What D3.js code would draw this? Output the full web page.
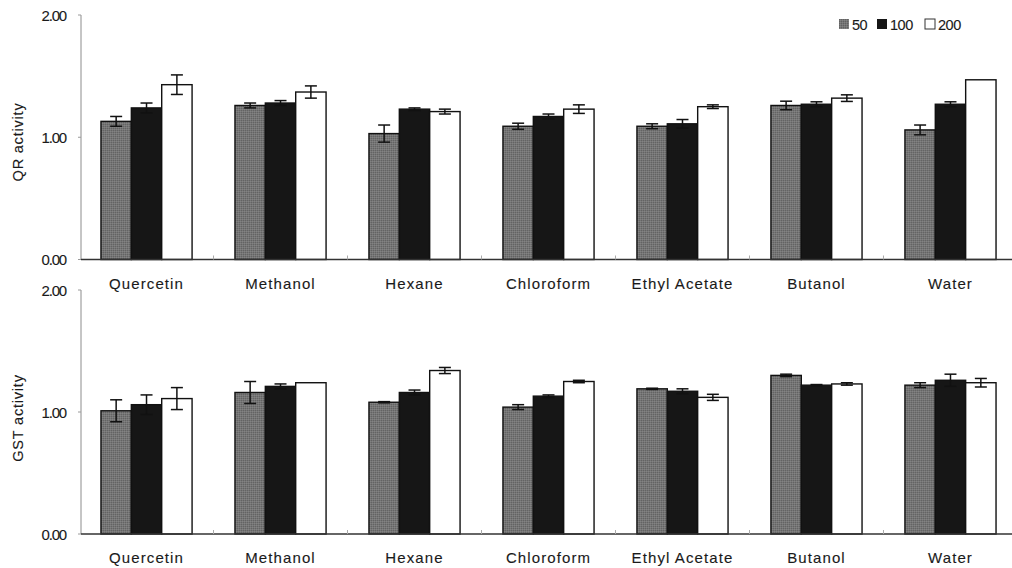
<!DOCTYPE html>
<html>
<head>
<meta charset="utf-8">
<script src="https://cdn.jsdelivr.net/npm/d3@7/dist/d3.min.js"></script>
<style>
  html, body { margin: 0; padding: 0; background: #fff; }
  svg { display: block; font-family: "Liberation Sans", Arial, sans-serif; }
  svg text { fill: #1a1a1a; stroke: #1a1a1a; stroke-width: 0.12; }
</style>
</head>
<body>
<svg id="chart" width="1012" height="568"></svg>
<script>
// Extract groups and concentrations
const categories = ["Quercetin", "Methanol", "Hexane", "Chloroform", "Ethyl Acetate", "Butanol", "Water"];
const doses = ["50", "100", "200"];
const yTicks = [0, 1, 2];

// QR activity (mean and error per dose)
const qr50  = [1.13, 1.26, 1.03, 1.09, 1.09, 1.26, 1.06];
const qr100 = [1.24, 1.28, 1.23, 1.17, 1.11, 1.27, 1.27];
const qr200 = [1.43, 1.37, 1.21, 1.23, 1.25, 1.32, 1.47];
const qrErr50  = [0.04, 0.02, 0.07, 0.025, 0.02, 0.035, 0.04];
const qrErr100 = [0.04, 0.02, 0.01, 0.02, 0.035, 0.02, 0.02];
const qrErr200 = [0.08, 0.05, 0.02, 0.035, 0.015, 0.027, 0];

// GST activity (mean and error per dose)
const gst50  = [1.01, 1.16, 1.08, 1.04, 1.19, 1.30, 1.22];
const gst100 = [1.06, 1.21, 1.16, 1.13, 1.17, 1.22, 1.26];
const gst200 = [1.11, 1.24, 1.34, 1.25, 1.12, 1.23, 1.24];
const gstErr50  = [0.09, 0.09, 0.005, 0.02, 0.005, 0.01, 0.02];
const gstErr100 = [0.08, 0.02, 0.02, 0.01, 0.02, 0.005, 0.05];
const gstErr200 = [0.09, 0, 0.025, 0.01, 0.025, 0.01, 0.035];

const svg = d3.select("#chart");

// Dithered grey fill for the 50 dose
const defs = svg.append("defs");
const pat = defs.append("pattern")
  .attr("id", "greyDither")
  .attr("width", 2).attr("height", 2)
  .attr("patternUnits", "userSpaceOnUse");
pat.append("rect").attr("width", 2).attr("height", 2).attr("fill", "#757575");
pat.append("rect").attr("width", 1).attr("height", 1).attr("fill", "#626262");
pat.append("rect").attr("x", 1).attr("y", 1).attr("width", 1).attr("height", 1).attr("fill", "#848484");

const fills = { "50": "url(#greyDither)", "100": "#161616", "200": "#ffffff" };

const axisX = 81;
const x = d3.scaleBand()
  .domain(categories)
  .range([axisX, 1016])
  .paddingInner(0.32)
  .paddingOuter(0.149);

const xs = d3.scaleBand()
  .domain(doses)
  .range([0, x.bandwidth()]);

function panel(opts) {
  const y = d3.scaleLinear().domain([0, 2]).range([opts.bottom, opts.top]);
  const g = svg.append("g");

  // y axis line and ticks
  g.append("line")
    .attr("x1", axisX).attr("x2", axisX)
    .attr("y1", y(2)).attr("y2", y(0))
    .attr("stroke", "#8c8c8c").attr("stroke-width", 1);
  g.selectAll(".ytick").data(yTicks).join("line")
    .attr("x1", axisX - 3).attr("x2", axisX)
    .attr("y1", d => y(d)).attr("y2", d => y(d))
    .attr("stroke", "#9a9a9a").attr("stroke-width", 1);
  g.selectAll(".ylab").data(yTicks).join("text")
    .attr("x", 66).attr("y", d => y(d) + 5.5)
    .attr("text-anchor", "end")
    .attr("font-size", 15)
    .attr("letter-spacing", -1.2)
    .text(d => d3.format(".2f")(d));

  // y title
  g.append("text")
    .attr("transform", `translate(${opts.titleX},${opts.titleY}) rotate(-90)`)
    .attr("text-anchor", "middle")
    .attr("font-size", 14.5)
    .attr("letter-spacing", 0.8)
    .text(opts.title);

  // grouped bars
  const groups = g.selectAll(".grp").data(categories).join("g")
    .attr("transform", d => `translate(${x(d)},0)`);

  groups.each(function(cat, i) {
    const gg = d3.select(this);
    const rows = doses.map((dose, k) => ({ dose, v: opts.values[k][i], e: opts.errors[k][i] }));
    gg.selectAll("rect").data(rows).join("rect")
      .attr("x", d => xs(d.dose))
      .attr("y", d => y(d.v))
      .attr("width", xs.bandwidth())
      .attr("height", d => y(0) - y(d.v))
      .attr("fill", d => fills[d.dose])
      .attr("stroke", "#111")
      .attr("stroke-width", 1.4);

    const eb = gg.selectAll(".err").data(rows.filter(d => d.e > 0)).join("g")
      .attr("stroke", "#111").attr("stroke-width", 1.5);
    const cx = d => xs(d.dose) + xs.bandwidth() / 2;
    eb.append("line")
      .attr("x1", cx).attr("x2", cx)
      .attr("y1", d => y(d.v + d.e)).attr("y2", d => y(d.v - d.e));
    eb.append("line")
      .attr("x1", d => cx(d) - 6).attr("x2", d => cx(d) + 6)
      .attr("y1", d => y(d.v + d.e)).attr("y2", d => y(d.v + d.e));
    eb.append("line")
      .attr("x1", d => cx(d) - 6).attr("x2", d => cx(d) + 6)
      .attr("y1", d => y(d.v - d.e)).attr("y2", d => y(d.v - d.e));
  });

  // baseline with small ticks between groups
  g.append("line")
    .attr("x1", axisX).attr("x2", 1012)
    .attr("y1", y(0)).attr("y2", y(0))
    .attr("stroke", "#333").attr("stroke-width", 1.5);
  const bounds = categories.slice(1).map(c => x(c) - x.step() * x.paddingInner() / 2);
  g.selectAll(".xtick").data(bounds).join("line")
    .attr("x1", d => d).attr("x2", d => d)
    .attr("y1", y(0)).attr("y2", y(0) - 4)
    .attr("stroke", "#aaa").attr("stroke-width", 1);

  // category labels
  g.selectAll(".xlab").data(categories).join("text")
    .attr("x", d => x(d) + x.bandwidth() / 2)
    .attr("y", y(0) + 29)
    .attr("text-anchor", "middle")
    .attr("font-size", 15)
    .attr("letter-spacing", 1.1)
    .text(d => d);
}

panel({
  top: 15, bottom: 259.5, title: "QR activity", titleX: 23, titleY: 142,
  values: [qr50, qr100, qr200], errors: [qrErr50, qrErr100, qrErr200]
});
panel({
  top: 290, bottom: 534, title: "GST activity", titleX: 23, titleY: 418,
  values: [gst50, gst100, gst200], errors: [gstErr50, gstErr100, gstErr200]
});

// legend
const legend = svg.append("g").attr("transform", "translate(839,19)");
const legX = [0, 38, 86];
doses.forEach((dose, k) => {
  const lg = legend.append("g").attr("transform", `translate(${legX[k]},0)`);
  lg.append("rect").attr("width", 10).attr("height", 10)
    .attr("fill", fills[dose]).attr("stroke", dose === "200" ? "#333" : "none")
    .attr("stroke-width", 1);
  lg.append("text").attr("x", 13).attr("y", 10.5)
    .attr("font-size", 14.5).attr("letter-spacing", -0.5)
    .text(dose);
});
</script>
</body>
</html>
